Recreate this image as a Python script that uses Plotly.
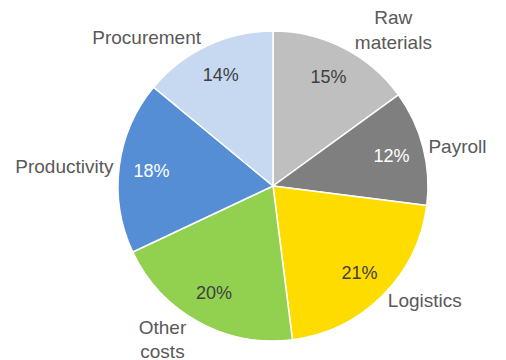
import plotly.graph_objects as go

categories = ["Raw<br>materials", "Payroll", "Logistics", "Other<br>costs", "Productivity", "Procurement"]
values = [15, 12, 21, 20, 18, 14]
colors = ["#BFBFBF", "#7F7F7F", "#FFDC00", "#92D050", "#558ED5", "#C6D9F1"]
pct_colors = ["#404040", "#FFFFFF", "#404040", "#404040", "#FFFFFF", "#404040"]

FONT = "Liberation Sans, Arial, sans-serif"
dom = dict(x=[118/506, 428/506], y=[1-341/360, 1-31/360])
common = dict(labels=categories, values=values, sort=False, direction="clockwise", rotation=0,
              domain=dom, showlegend=False, hoverinfo="skip")

fig = go.Figure()
# filled slices
fig.add_trace(go.Pie(
    marker=dict(colors=colors, line=dict(color="white", width=1.5)),
    textinfo="none", **common,
))
# percentages placed in outer ring
fig.add_trace(go.Pie(
    hole=0.58,
    marker=dict(colors=["rgba(0,0,0,0)"]*6, line=dict(width=0)),
    textinfo="percent", textposition="inside", insidetextorientation="horizontal",
    insidetextfont=dict(family=FONT, size=18, color=pct_colors),
    **common,
))
# category labels outside
fig.add_trace(go.Pie(
    marker=dict(colors=["rgba(0,0,0,0)"]*6, line=dict(width=0)),
    textinfo="label", textposition="outside", automargin=False,
    outsidetextfont=dict(family=FONT, size=19, color="#595959"),
    **common,
))
fig.update_layout(
    width=506, height=360, margin=dict(l=0, r=0, t=0, b=0),
    paper_bgcolor="white", plot_bgcolor="white",
)
fig.write_html("out.html")
